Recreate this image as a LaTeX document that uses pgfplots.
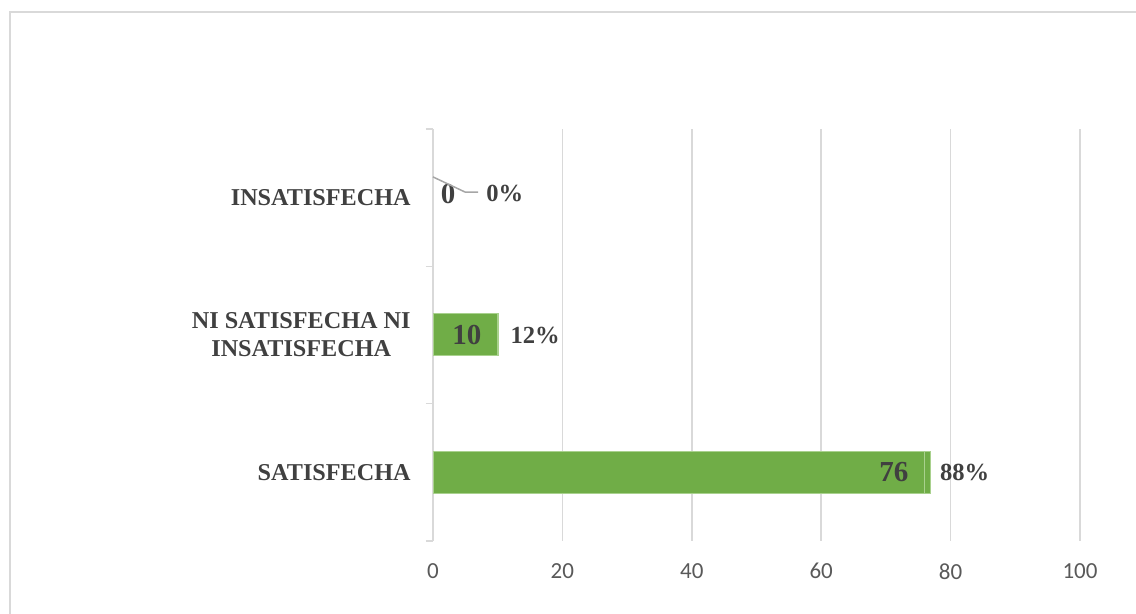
\documentclass[border=0pt]{standalone}
\usepackage{pgfplots}
\pgfplotsset{compat=1.18}
\usepackage{fontspec}
\setmainfont{Liberation Serif}
\newfontfamily\calib{Carlito}
\definecolor{barg}{HTML}{70AD47}
\definecolor{barb}{HTML}{A9D18E}
\definecolor{txt}{HTML}{404040}
\definecolor{ticktxt}{HTML}{595959}
\definecolor{gridc}{HTML}{D9D9D9}
\definecolor{framec}{HTML}{D9D9D9}
\definecolor{leader}{HTML}{A6A6A6}
\begin{document}
\begin{tikzpicture}
\useasboundingbox (0,0) rectangle (568pt,307pt);
\draw[framec, line width=1pt] (5pt,0) -- (5pt,301pt) -- (568pt,301pt);
\begin{axis}[
  at={(216.5pt,36.5pt)}, anchor=south west,
  scale only axis, width=323.5pt, height=206pt,
  xmin=0, xmax=100, ymin=-0.5, ymax=2.5,
  xbar stacked, bar width=21pt,
  clip=false,
  xtick={0,20,40,60,80,100},
  ytick={0,1,2},
  yticklabels={SATISFECHA,{NI SATISFECHA NI\\INSATISFECHA},INSATISFECHA},
  minor ytick={-0.5,0.5,1.5,2.5},
  major tick length=0pt, minor tick length=3.5pt, tick align=outside,
  xtick style={draw=none},
  ytick style={draw=gridc, line width=0.75pt},
  xmajorgrids, grid style={draw=gridc, line width=0.75pt},
  axis lines*=left,
  x axis line style={draw=none},
  y axis line style={draw=gridc, line width=0.75pt},
  /pgf/number format/assume math mode=true,
  xticklabel style={font=\calib\fontsize{11.5}{12}\selectfont, text=ticktxt, anchor=north, inner sep=0pt, yshift=-11pt},
  yticklabel style={font=\fontsize{12.1}{14}\selectfont\bfseries, text=txt, align=center, anchor=east, inner sep=0pt, xshift=-11pt},
]
\addplot[fill=barg, draw=barb, line width=0.5pt]
  coordinates {(76,0) (10,1) (0,2)};
\addplot[fill=barg, draw=barb, line width=0.5pt,
  nodes near coords, point meta=explicit symbolic,
  nodes near coords style={anchor=west, inner sep=0pt, xshift=6pt, font=\fontsize{12.3}{12.3}\selectfont\bfseries, text=txt}]
  coordinates {(0.88,0)[88\%] (0.12,1)[12\%] (0,2)[]};
\coordinate (L76) at (axis cs:76,0);
\coordinate (L10) at (axis cs:10,1);
\draw[leader, line width=0.75pt] (axis cs:0,2.151) -- (axis cs:4.95,2.041) -- (axis cs:6.96,2.041);
\node[inner sep=0pt, font=\fontsize{14.5}{14.5}\selectfont\bfseries, text=txt] at (axis cs:2.32,2.027) {0};
\node[anchor=west, inner sep=0pt, font=\fontsize{12.3}{12.3}\selectfont\bfseries, text=txt] at (axis cs:8.19,2.03) {0\%};
\end{axis}
\node[anchor=east, inner sep=0pt, xshift=-8pt, font=\fontsize{14.5}{14.5}\selectfont\bfseries, text=txt] at (L76) {76};
\node[anchor=east, inner sep=0pt, xshift=-8pt, font=\fontsize{14.5}{14.5}\selectfont\bfseries, text=txt] at (L10) {10};
\end{tikzpicture}
\end{document}
